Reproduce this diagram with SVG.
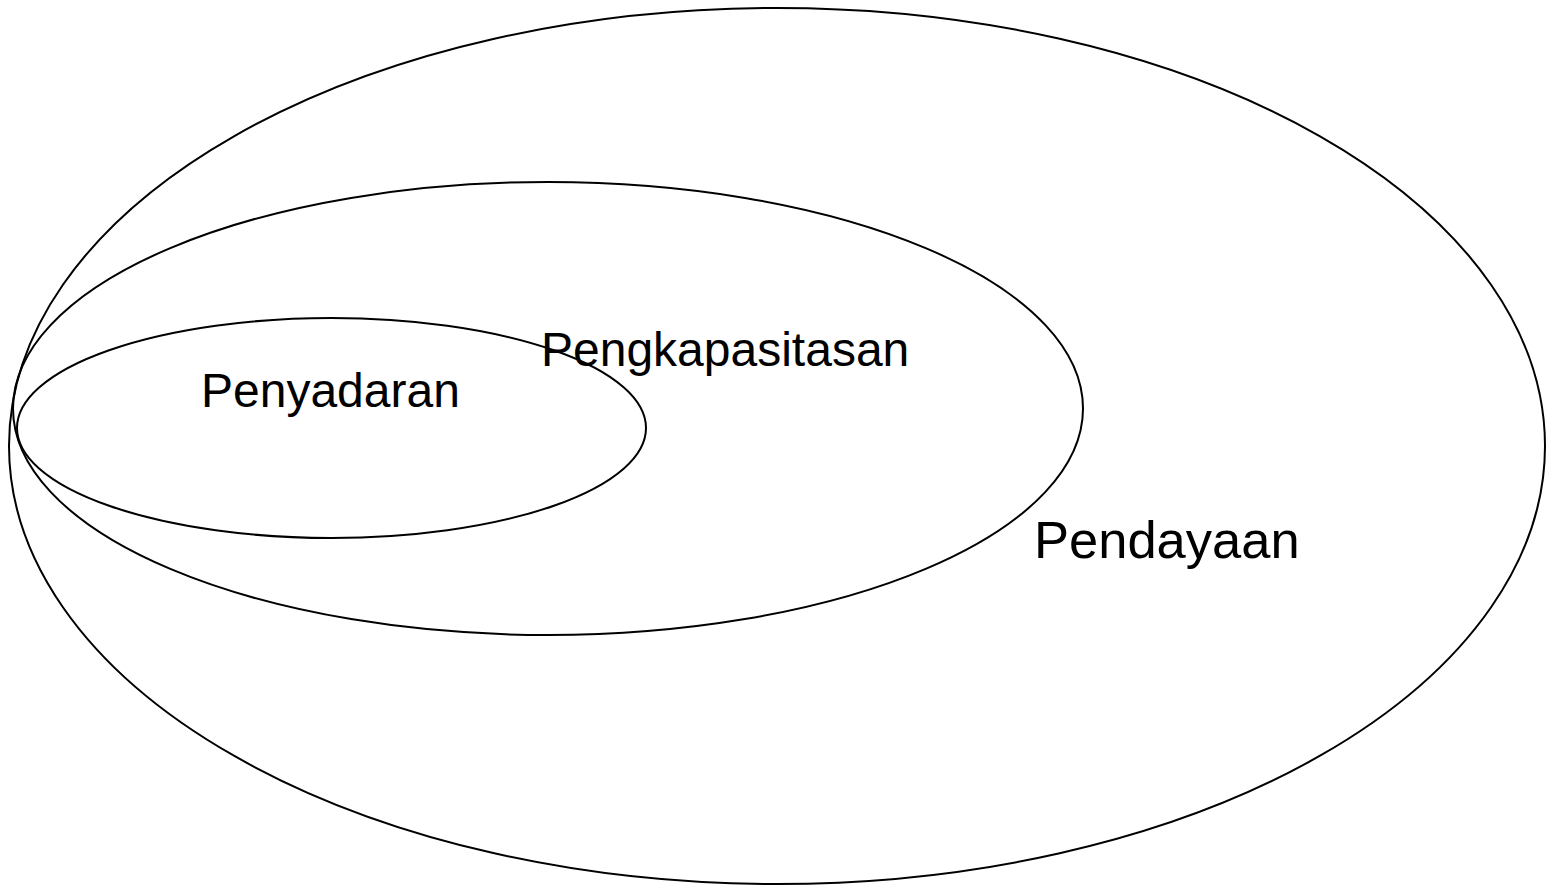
<svg xmlns="http://www.w3.org/2000/svg" width="1552" height="888" viewBox="0 0 1552 888">
<style>
.e{fill:none;stroke:#000;stroke-width:2}
.t{font-family:"Liberation Sans",Arial,sans-serif;font-size:48px;fill:#000}
</style>
<rect width="1552" height="888" fill="#fff"/>
<g id="pendayaan"><ellipse class="e" cx="777" cy="446" rx="768" ry="438"/><text class="t" x="1034" y="558" style="font-size:52.5px">Pendayaan</text></g>
<g id="pengkapasitasan"><ellipse class="e" cx="548" cy="408.5" rx="535" ry="226.5"/><text class="t" x="541" y="366">Pengkapasitasan</text></g>
<g id="penyadaran"><ellipse class="e" cx="331.5" cy="428" rx="314.5" ry="110"/><text class="t" x="201" y="407">Penyadaran</text></g>
<g id="connectors"/>
</svg>
